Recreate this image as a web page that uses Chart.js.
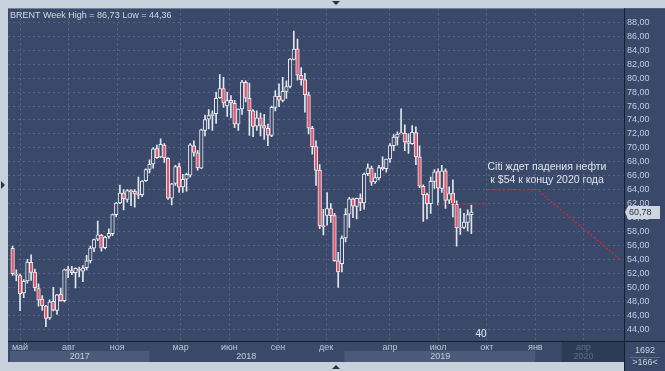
<!DOCTYPE html>
<html>
<head>
<meta charset="utf-8">
<script src="https://cdn.jsdelivr.net/npm/chart.js@4.4.0/dist/chart.umd.min.js"></script>
<style>
    html, body { margin: 0; padding: 0; background: #c7d1dc; }
    #wrap { width: 665px; height: 371px; }
</style>
</head>
<body>
<div id="wrap"><canvas id="brentChart" width="665" height="371"></canvas></div>
<script>
// one candle per week, week 0 = 17.04.2017
const startDate = '2017-04-17';

const openP = [
    55.6, 51.9, 51.7, 49.2, 50.9, 53.6, 52.2, 49.8, 48.3, 47.3,
    45.6, 48.0, 46.7, 49.0, 48.1, 52.6, 52.4, 52.1, 52.6, 52.3,
    52.8, 53.8, 55.6, 56.9, 57.5, 55.7, 57.3, 57.7, 60.4, 62.1,
    63.5, 62.6, 63.8, 63.8, 63.4, 63.3, 65.3, 66.9, 67.7, 69.9,
    68.7, 70.4, 68.5, 62.8, 64.9, 67.3, 64.4, 65.5, 66.1, 70.3,
    69.3, 67.1, 72.5, 74.1, 74.6, 74.9, 77.2, 78.5, 76.0, 76.8,
    76.4, 73.4, 75.6, 79.4, 77.1, 75.3, 73.1, 74.3, 73.2, 72.8,
    71.8, 75.8, 77.4, 76.8, 78.1, 78.8, 82.7, 84.2, 80.4, 79.8,
    77.6, 72.8, 70.2, 66.8, 58.8, 60.3, 61.3, 60.3, 53.8, 53.4,
    57.1, 60.5, 62.7, 61.6, 62.8, 62.1, 66.3, 67.1, 65.1, 65.7,
    67.2, 67.0, 68.4, 70.3, 71.5, 72.0, 72.1, 70.9, 70.6, 72.2,
    68.7, 64.5, 63.3, 62.0, 65.2, 66.6, 64.2, 66.7, 62.5, 63.5,
    61.9, 58.5, 58.6, 59.3, 60.4
];
const highP = [
    55.9, 52.5, 51.9, 51.1, 54.0, 54.67, 52.6, 50.5, 48.8, 47.4,
    48.2, 50.0, 49.0, 49.9, 52.6, 53.0, 53.0, 52.8, 52.9, 53.1,
    54.6, 55.9, 56.9, 59.5, 57.6, 57.3, 58.4, 60.5, 62.2, 64.65,
    64.0, 64.0, 64.0, 64.0, 65.8, 65.3, 67.0, 68.3, 70.05, 70.4,
    71.3, 70.6, 68.6, 64.9, 67.5, 67.8, 66.2, 66.4, 70.6, 71.0,
    69.6, 72.7, 74.7, 75.5, 75.3, 78.0, 80.5, 80.1, 78.0, 77.5,
    76.8, 75.6, 79.7, 79.6, 79.3, 75.5, 75.3, 75.0, 74.8, 73.4,
    76.0, 78.2, 79.2, 80.1, 79.6, 82.8, 86.73, 85.6, 81.5, 80.7,
    78.0, 73.1, 71.0, 67.6, 61.2, 63.6, 62.0, 60.6, 55.0, 57.4,
    61.3, 62.9, 62.8, 62.8, 63.4, 66.4, 67.7, 67.4, 66.4, 67.5,
    68.7, 68.4, 70.6, 71.9, 72.3, 75.6, 73.3, 72.0, 73.2, 73.0,
    70.3, 64.7, 63.5, 65.8, 66.9, 67.0, 67.5, 67.0, 64.4, 65.4,
    62.4, 61.3, 60.6, 61.1, 61.8
];
const lowP = [
    51.7, 50.9, 46.64, 48.5, 50.6, 51.0, 49.5, 47.3, 46.7, 44.36,
    45.4, 46.6, 46.1, 48.0, 47.9, 51.4, 51.8, 49.9, 51.5, 50.8,
    52.5, 53.5, 55.1, 56.7, 55.2, 55.5, 57.0, 57.4, 60.1, 62.0,
    61.1, 62.2, 61.7, 61.5, 62.7, 63.0, 65.2, 66.4, 67.1, 68.5,
    68.6, 67.9, 62.6, 61.8, 64.6, 63.6, 63.6, 63.8, 65.8, 68.8,
    66.8, 67.0, 71.7, 72.7, 72.5, 73.5, 77.1, 75.8, 74.5, 74.3,
    72.9, 72.5, 74.8, 76.6, 71.8, 71.6, 72.5, 71.7, 71.2, 70.3,
    71.6, 75.3, 75.9, 76.6, 77.1, 78.6, 82.6, 79.7, 79.0, 75.1,
    72.0, 69.1, 64.6, 58.4, 57.5, 58.9, 59.3, 53.7, 50.0, 52.2,
    56.5, 58.6, 60.0, 59.8, 61.0, 61.2, 66.0, 64.6, 64.9, 65.4,
    66.8, 66.5, 67.9, 69.6, 70.4, 72.0, 69.6, 69.2, 70.5, 67.6,
    64.3, 59.45, 59.8, 60.6, 64.2, 61.8, 63.6, 61.3, 62.0, 60.1,
    55.9, 57.6, 58.4, 58.1, 57.7
];
const closeP = [
    51.96, 51.73, 49.10, 50.84, 53.61, 52.15, 49.95, 48.15, 47.37, 45.54,
    47.92, 46.71, 48.91, 48.06, 52.52, 52.42, 52.10, 52.72, 52.41, 52.75,
    53.78, 55.62, 56.86, 57.54, 55.62, 57.17, 57.75, 60.44, 62.07, 63.52,
    62.72, 63.86, 63.73, 63.40, 63.23, 65.25, 66.87, 67.62, 69.87, 68.61,
    70.52, 68.58, 62.79, 64.84, 67.31, 64.37, 65.49, 66.21, 70.45, 69.34,
    67.11, 72.58, 74.06, 74.64, 74.87, 77.12, 78.51, 76.44, 76.79, 76.46,
    73.44, 75.55, 79.44, 77.11, 75.33, 73.07, 74.29, 73.21, 72.81, 71.83,
    75.82, 77.42, 76.83, 78.09, 78.80, 82.72, 84.16, 80.43, 79.78, 77.62,
    72.83, 70.18, 66.76, 58.80, 58.71, 61.30, 60.28, 53.82, 52.20, 57.06,
    60.48, 62.70, 61.64, 62.75, 62.10, 66.25, 67.12, 65.07, 65.74, 67.16,
    67.03, 68.39, 70.34, 71.55, 71.97, 72.15, 70.85, 70.62, 72.21, 68.69,
    64.49, 63.29, 62.01, 65.20, 66.55, 64.23, 66.72, 62.47, 63.46, 61.89,
    58.53, 58.64, 59.34, 60.43, 60.78
];

// Citi forecast lines (week index, price)
const levelWeeks = [115, 128.2];
const levelPrices = [62, 62];
const citiWeeks = [128.2, 141.7, 164.2];
const citiPrices = [64, 64, 54];

const yTicks = [44, 46, 48, 50, 52, 54, 56, 58, 60, 62, 64, 66, 68, 70, 72, 74, 76, 78, 80, 82, 84, 86, 88];
const monthLabels = ['май', 'авг', 'ноя', 'мар', 'июн', 'сен', 'дек', 'апр', 'июл', 'окт', 'янв', 'апр'];
const monthDates = ['2017-05-01', '2017-08-01', '2017-11-01', '2018-03-01', '2018-06-01', '2018-09-01',
                    '2018-12-01', '2019-04-01', '2019-07-01', '2019-10-01', '2020-01-01', '2020-04-01'];
const yearLabels = ['2017', '2018', '2019', '2020'];
const yearFrom = ['2017-04-01', '2018-01-01', '2019-01-01', '2020-02-20'];
const yearTo = ['2018-01-01', '2019-01-01', '2020-01-01', '2020-07-01'];
const yearLabelAt = ['2017-08-22', '2018-07-03', '2019-07-05', '2020-04-01'];

const titleText = 'BRENT Week High = 86,73 Low = 44,36';
const noteLines = ['Citi ждет падения нефти', 'к $54 к концу 2020 года'];

const BG = '#3a4969';
const FONT = '"Liberation Sans", Arial, sans-serif';
const weekOf = d => (new Date(d) - new Date(startDate)) / (7 * 864e5);
const fmt = v => v.toFixed(2).replace('.', ',');

const weeks = openP.map((_, i) => i);
const isDown = weeks.map(i => closeP[i] < openP[i]);

// backgrounds, year bands and frame
const panelPlugin = {
    id: 'panel',
    beforeDraw(chart) {
        const { ctx, chartArea: a, scales: { x } } = chart;
        const W = chart.width, H = chart.height;
        const bandTop = a.bottom, bandBottom = a.bottom + 21;
        ctx.save();
        ctx.fillStyle = '#c7d1dc';
        ctx.fillRect(0, 0, W, H);
        ctx.fillStyle = BG;
        ctx.fillRect(a.left, a.top, W - a.left, bandBottom - a.top);
        // right bottom cell goes down to the edge
        ctx.fillRect(a.right, a.top, W - a.right, H - a.top);

        // year bands
        yearLabels.forEach((yl, k) => {
            const x0 = Math.max(a.left, x.getPixelForValue(weekOf(yearFrom[k])));
            const x1 = Math.min(a.right, x.getPixelForValue(weekOf(yearTo[k])));
            if (k === yearLabels.length - 1) {
                ctx.fillStyle = '#2e3b57';
                ctx.fillRect(x0, bandTop, x1 - x0, bandBottom - bandTop);
            } else if (k % 2 === 0) {
                ctx.fillStyle = '#4b5a78';
                ctx.fillRect(x0 + 2, bandTop + 10, x1 - x0 - 2, bandBottom - bandTop - 10);
            }
            ctx.fillStyle = k === yearLabels.length - 1 ? '#5f6b86' : '#c4ccdc';
            ctx.font = '9px ' + FONT;
            ctx.textAlign = 'center';
            ctx.textBaseline = 'middle';
            ctx.fillText(yl, x.getPixelForValue(weekOf(yearLabelAt[k])), bandTop + 16);
        });
        ctx.restore();
    },
    afterDraw(chart) {
        const { ctx, chartArea: a, scales: { y } } = chart;
        const W = chart.width, H = chart.height;
        ctx.save();

        // separators
        ctx.strokeStyle = '#161d2b';
        ctx.lineWidth = 1;
        ctx.beginPath();
        ctx.moveTo(a.right + 0.5, a.top);
        ctx.lineTo(a.right + 0.5, H);
        ctx.moveTo(a.left, a.bottom + 0.5);
        ctx.lineTo(W, a.bottom + 0.5);
        ctx.stroke();

        // title
        ctx.fillStyle = '#d3d9e4';
        ctx.font = '9px ' + FONT;
        ctx.textAlign = 'left';
        ctx.textBaseline = 'middle';
        ctx.fillText(titleText, a.left + 2, a.top + 7);

        // note
        ctx.fillStyle = '#dfe4ec';
        ctx.font = '10.5px ' + FONT;
        ctx.textAlign = 'center';
        ctx.fillText(noteLines[0], 547, 167);
        ctx.fillText(noteLines[1], 547, 180);

        ctx.fillStyle = '#e8ecf2';
        ctx.font = '10px ' + FONT;
        ctx.fillText('40', 481, a.bottom - 7);

        // last price label
        const py = Math.round(y.getPixelForValue(closeP[closeP.length - 1]));
        ctx.fillStyle = '#cdd5e0';
        ctx.beginPath();
        ctx.moveTo(a.right + 1, py);
        ctx.lineTo(a.right + 4, py - 6);
        ctx.lineTo(W - 5, py - 6);
        ctx.lineTo(W - 5, py + 7);
        ctx.lineTo(a.right + 4, py + 7);
        ctx.closePath();
        ctx.fill();
        ctx.fillStyle = '#2b3446';
        ctx.font = '9px ' + FONT;
        ctx.textAlign = 'left';
        ctx.fillText(fmt(closeP[closeP.length - 1]), a.right + 5, py + 1);

        // bottom right counter
        ctx.fillStyle = '#c8d0e0';
        ctx.textAlign = 'center';
        ctx.fillText('1692', 645, a.bottom + 10);
        ctx.fillText('>166<', 645, a.bottom + 22);
        ctx.strokeStyle = '#5d6b88';
        ctx.beginPath();
        ctx.moveTo(630, a.bottom + 16.5);
        ctx.lineTo(660, a.bottom + 16.5);
        ctx.stroke();

        // frame arrows
        ctx.fillStyle = '#26324a';
        ctx.beginPath();
        ctx.moveTo(332, 1); ctx.lineTo(340, 1); ctx.lineTo(336, 5); ctx.closePath();
        ctx.moveTo(332, H - 2); ctx.lineTo(340, H - 2); ctx.lineTo(336, H - 6); ctx.closePath();
        ctx.moveTo(1, 181); ctx.lineTo(1, 189); ctx.lineTo(5, 185); ctx.closePath();
        ctx.fill();
        ctx.restore();
    }
};

const ctx = document.getElementById('brentChart').getContext('2d');
new Chart(ctx, {
    type: 'bar',
    data: {
        datasets: [
            {
                type: 'line',
                data: levelWeeks.map((w, k) => ({ x: w, y: levelPrices[k] })),
                borderColor: '#c8283c',
                borderWidth: 1.5,
                borderDash: [2, 2],
                pointRadius: 0,
                order: 0
            },
            {
                type: 'line',
                data: citiWeeks.map((w, k) => ({ x: w, y: citiPrices[k] })),
                borderColor: '#c8283c',
                borderWidth: 1.5,
                borderDash: [2, 2],
                pointRadius: 0,
                tension: 0,
                order: 0
            },
            {
                label: 'body',
                data: weeks.map(i => ({ x: i, y: [Math.min(openP[i], closeP[i]), Math.max(openP[i], closeP[i])] })),
                backgroundColor: isDown.map(d => d ? '#e4566c' : BG),
                borderColor: '#e9ecf2',
                borderWidth: 1,
                borderSkipped: false,
                barThickness: 3.6,
                minBarLength: 1,
                grouped: false,
                order: 1
            },
            {
                label: 'wick',
                data: weeks.map(i => ({ x: i, y: [lowP[i], highP[i]] })),
                backgroundColor: '#e3e6ee',
                barThickness: 1,
                grouped: false,
                order: 2
            }
        ]
    },
    options: {
        responsive: false,
        animation: false,
        layout: { padding: { left: 8, top: 7, right: 0, bottom: 9 } },
        plugins: {
            legend: { display: false },
            tooltip: { enabled: false }
        },
        scales: {
            x: {
                type: 'linear',
                min: -1.25,
                max: 165.25,
                offset: false,
                afterBuildTicks: s => { s.ticks = monthDates.map(d => ({ value: weekOf(d) })); },
                afterFit: s => { s.height = 21; },
                ticks: {
                    autoSkip: false,
                    maxRotation: 0,
                    padding: 1,
                    callback: (v, i) => monthLabels[i],
                    color: c => c.index === monthLabels.length - 1 ? '#5f6b86' : '#b9c3d6',
                    font: { family: FONT, size: 9 }
                },
                grid: { color: 'rgba(118,136,170,0.5)', drawTicks: false, offset: false },
                border: { display: false, dash: [2, 3] }
            },
            y: {
                position: 'right',
                min: 42.3,
                max: 90,
                afterBuildTicks: s => { s.ticks = yTicks.map(v => ({ value: v })); },
                afterFit: s => { s.width = 41; },
                ticks: {
                    padding: 3,
                    callback: v => fmt(v),
                    color: '#c3cce0',
                    font: { family: FONT, size: 9 }
                },
                grid: { color: 'rgba(118,136,170,0.45)', drawTicks: false },
                border: { display: false, dash: [2, 3] }
            }
        }
    },
    plugins: [panelPlugin]
});
</script>
</body>
</html>
